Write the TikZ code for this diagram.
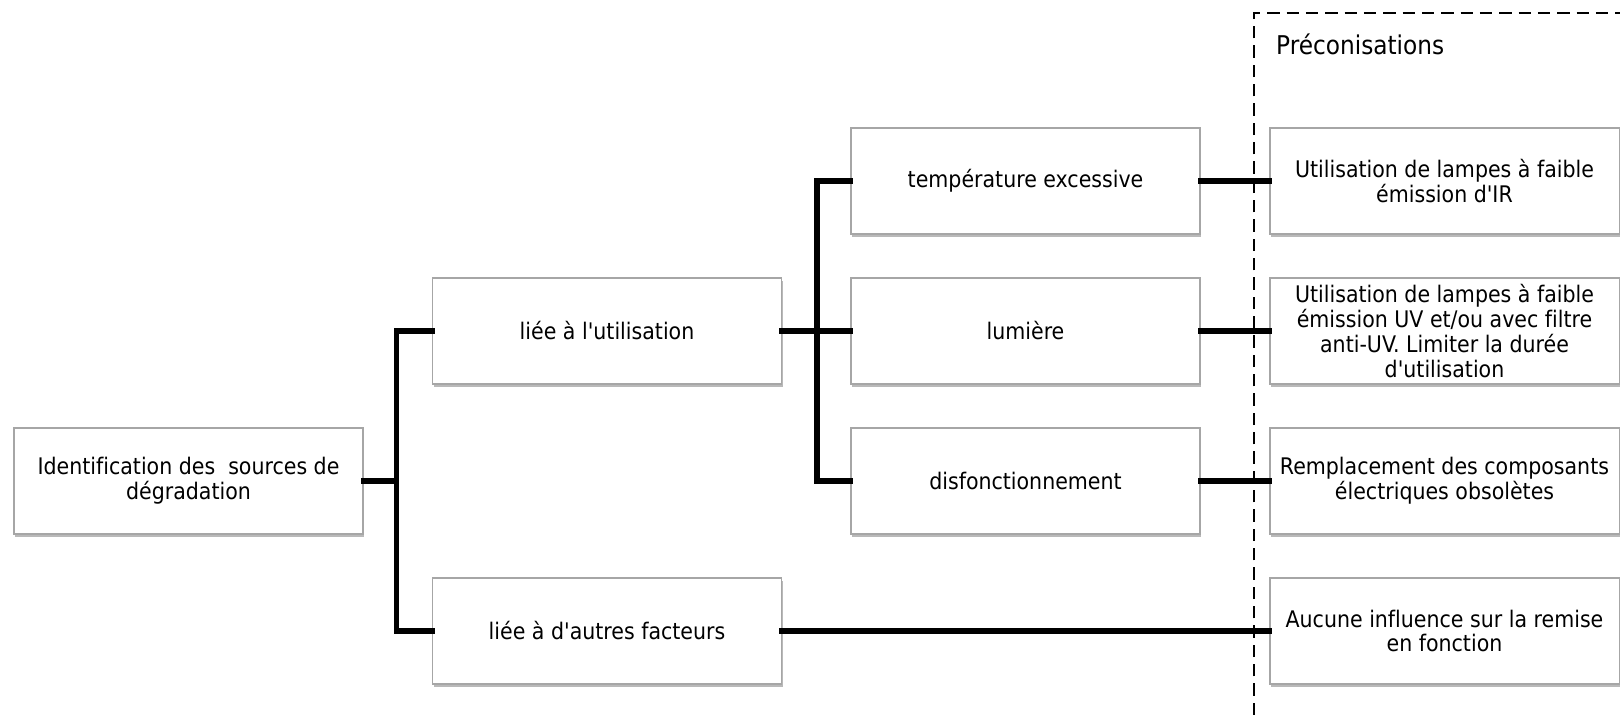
\documentclass[tikz,border=0pt]{standalone}
\usepackage{fontspec}
\setmainfont[Ligatures={NoCommon}]{DejaVu Sans Condensed}
\usetikzlibrary{shadows}

\newcommand{\apos}{\textquotesingle}

\begin{document}
\begin{tikzpicture}[
    every node/.style={font=\fontsize{13}{14.2}\selectfont},
    box/.style={draw=gray!70, line width=0.6pt, fill=white, align=center,
      minimum width=6.98cm, minimum height=2.12cm, inner sep=2pt,
      drop shadow={shadow xshift=0.7pt, shadow yshift=-1.6pt, fill=gray, opacity=0.55}},
    link/.style={line width=3pt, line cap=rect}]
  \useasboundingbox (0,0) rectangle (32.4,14.3);
  % Preconisations: cadre pointille
  \draw[line width=1.6pt, dash pattern=on 7pt off 4pt] (25.08,0) -- (25.08,14.04) -- (32.4,14.04);
  \node[anchor=west, font=\fontsize{14.7}{16}\selectfont] (preco) at (25.4,13.42) {Préconisations};
  % Sources
  \node[box] (ident) at (3.77,4.68) {Identification des\ \ sources de\\dégradation};
  \node[box] (util) at (12.14,7.68) {liée à l\apos utilisation};
  \node[box] (autres) at (12.14,1.68) {liée à d\apos autres facteurs};
  % Causes
  \node[box] (temp) at (20.51,10.68) {température excessive};
  \node[box] (lum) at (20.51,7.68) {lumière};
  \node[box] (disf) at (20.51,4.68) {disfonctionnement};
  % Remedes
  \node[box] (irlamp) at (28.89,10.68) {Utilisation de lampes à faible\\émission d\apos IR};
  \node[box] (uvlamp) at (28.89,7.68) {Utilisation de lampes à faible\\émission UV et/ou avec filtre\\anti-UV. Limiter la durée\\d\apos utilisation};
  \node[box] (compo) at (28.89,4.68) {Remplacement des composants\\électriques obsolètes};
  \node[box] (aucune) at (28.89,1.68) {Aucune influence sur la remise\\en fonction};
  % Liaisons
  \draw[link] (ident.east) -- ++(0.66,0) |- (util.west);
  \draw[link] (ident.east) -- ++(0.66,0) |- (autres.west);
  \draw[link] (util.east) -- (lum.west);
  \draw[link] (util.east) -- ++(0.7,0) |- (temp.west);
  \draw[link] (util.east) -- ++(0.7,0) |- (disf.west);
  \draw[link] (temp.east) -- (irlamp.west);
  \draw[link] (lum.east) -- (uvlamp.west);
  \draw[link] (disf.east) -- (compo.west);
  \draw[link] (autres.east) -- (aucune.west);
\end{tikzpicture}
\end{document}
